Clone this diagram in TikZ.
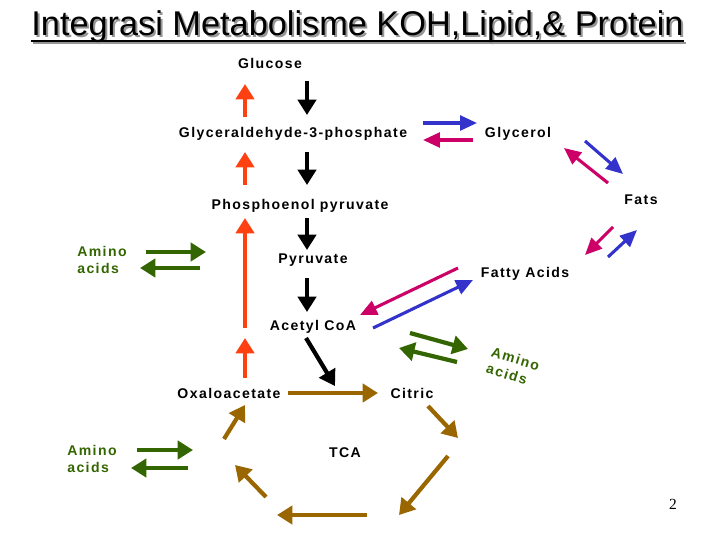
\documentclass[tikz,border=0pt]{standalone}
\usepackage{fontspec}
\setmainfont{Liberation Sans}
\newfontfamily\labelfont[LetterSpace=10]{Liberation Sans}
\newfontfamily\pagefont{Liberation Serif}
\usetikzlibrary{arrows.meta}
\definecolor{orng}{RGB}{255,64,16}
\definecolor{blu}{RGB}{51,51,204}
\definecolor{mag}{RGB}{204,0,102}
\definecolor{grn}{RGB}{51,102,0}
\definecolor{brn}{RGB}{153,102,0}
\definecolor{shadowgray}{RGB}{150,150,150}

\begin{document}
\begin{tikzpicture}[
x=0.025cm, y=-0.025cm,
mylabel/.style={
  font=\labelfont\bfseries\fontsize{10}{12}\selectfont,
  inner sep=0pt,
  anchor=base
  },
aminolabel/.style={
  font=\labelfont\bfseries\fontsize{10}{12}\selectfont,
  text=grn,
  align=left,
  inner sep=0pt,
  anchor=west
  },
titletext/.style={
  font=\fontsize{24.4}{28}\selectfont,
  inner sep=0pt,
  anchor=base
  },
fatarrow/.style={line width=3pt,-{Triangle[length=11pt,width=13pt]}},
thinarrow/.style={line width=2.2pt,-{Triangle[length=12pt,width=10.5pt]}}
]
\useasboundingbox (0,0) rectangle (720,540);

% title with its shadow
\node[titletext, text=shadowgray] (titleshadow) at (359.5,37) {Integrasi Metabolisme KOH,Lipid,\& Protein};
\draw[shadowgray, line width=1.5pt] ([yshift=-4pt]titleshadow.base west) -- ([yshift=-4pt]titleshadow.base east);
\node[titletext] (title) at (357.5,35) {Integrasi Metabolisme KOH,Lipid,\& Protein};
\draw[line width=1.5pt] ([yshift=-4pt]title.base west) -- ([yshift=-4pt]title.base east);

% labels
\node[mylabel] (glu) at (270,68) {Glucose};
\node[mylabel] (g3p) at (293,137) {Glyceraldehyde-3-phosphate};
\node[mylabel] (gly) at (518,137) {Glycerol};
\node[mylabel] (fats) at (641,204) {Fats};
\node[mylabel] (pep) at (300,209) {Phosphoenol pyruvate};
\node[mylabel] (pyr) at (313,263) {Pyruvate};
\node[mylabel] (fa) at (525,277) {Fatty Acids};
\node[mylabel] (aco) at (313,330) {Acetyl CoA};
\node[mylabel] (oxa) at (229,398) {Oxaloacetate};
\node[mylabel] (cit) at (412,398) {Citric};
\node[mylabel] (tca) at (345,457) {TCA};
\node[aminolabel] (amino1) at (77,260) {Amino\\acids};
\node[aminolabel] (amino3) at (67,459) {Amino\\acids};
\node[aminolabel, anchor=center, rotate=-17] (amino2) at (513,367) {Amino\\acids};
\node[font=\pagefont\fontsize{11}{13}\selectfont, anchor=base, inner sep=0pt] (pnum) at (673,509) {2};

% arrow ends
\foreach \n/\p in {
  k1a/{307,81}, k1b/{307,115}, k2a/{307,152}, k2b/{307,185},
  k3a/{307,218}, k3b/{307,250}, k4a/{307,278}, k4b/{307,312},
  k5a/{306,338}, k5b/{335,386},
  o1a/{245,117}, o1b/{245,84}, o2a/{245,185}, o2b/{245,152},
  o3a/{245,328}, o3b/{245,218}, o4a/{245,378}, o4b/{245,338},
  u1a/{423,123}, u1b/{477,123}, u2a/{585,141}, u2b/{623,174},
  u3a/{608,257}, u3b/{637,230}, u4a/{373,328}, u4b/{473,280},
  m1a/{473,140}, m1b/{423,140}, m2a/{608,183}, m2b/{564,148},
  m3a/{613,227}, m3b/{585,255}, m4a/{458,268}, m4b/{360,315},
  n1a/{146,252}, n1b/{206,252}, n2a/{200,268}, n2b/{140,268},
  n3a/{410,333}, n3b/{468,349}, n4a/{457,362}, n4b/{399,348},
  n5a/{137,450}, n5b/{193,450}, n6a/{188,468}, n6b/{131,468},
  c1/{288,393}, c2/{378,393}, c3/{428,406}, c4/{458,438},
  c5/{448,456}, c6/{399,515}, c7/{367,515}, c8/{277,515},
  c9/{266,497}, c10/{235,465}, c11/{224,439}, c12/{245,405}}
  \coordinate (\n) at (\p);

% glycolysis and back
\path[fatarrow, black]
  (k1a) edge (k1b)
  (k2a) edge (k2b)
  (k3a) edge (k3b)
  (k4a) edge (k4b)
  (k5a) edge (k5b);
\path[fatarrow, orng]
  (o1a) edge (o1b)
  (o2a) edge (o2b)
  (o3a) edge (o3b)
  (o4a) edge (o4b);

% lipids
\path[thinarrow, blu]
  (u1a) edge (u1b)
  (u2a) edge (u2b)
  (u3a) edge (u3b)
  (u4a) edge (u4b);
\path[thinarrow, mag]
  (m1a) edge (m1b)
  (m2a) edge (m2b)
  (m3a) edge (m3b)
  (m4a) edge (m4b);

% amino acids
\path[fatarrow, grn]
  (n1a) edge (n1b)
  (n2a) edge (n2b)
  (n3a) edge (n3b)
  (n4a) edge (n4b)
  (n5a) edge (n5b)
  (n6a) edge (n6b);

% TCA cycle
\path[fatarrow, brn]
  (c1) edge (c2)
  (c3) edge (c4)
  (c5) edge (c6)
  (c7) edge (c8)
  (c9) edge (c10)
  (c11) edge (c12);
\end{tikzpicture}
\end{document}
